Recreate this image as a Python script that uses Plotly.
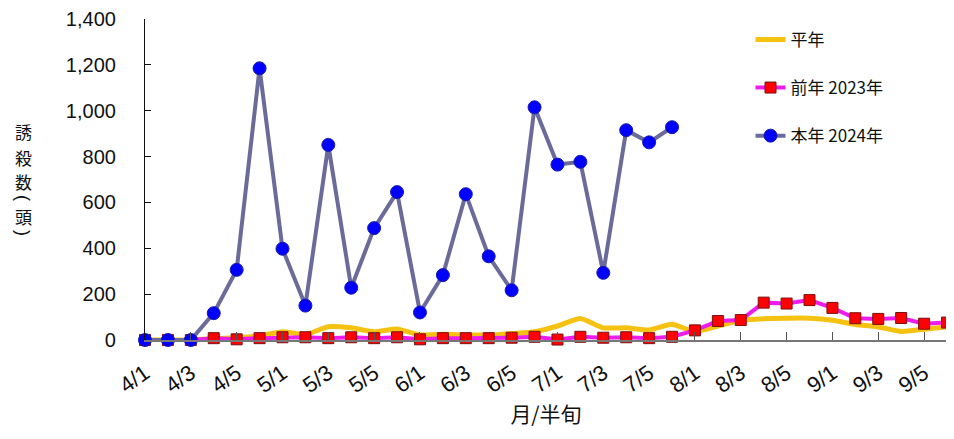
import plotly.graph_objects as go

categories = [f"{m}/{h}" for m in range(4, 10) for h in range(1, 7)]
tick_labels = categories[::2]

normal_year = [0, 0, 1, 5, 10, 18, 36, 24, 58, 53, 36, 48, 22, 25, 22, 22, 28, 36,
               61, 94, 53, 53, 44, 69, 36, 61, 86, 93, 95, 95, 86, 68, 57, 37, 47, 57]
prev_2023 = [0, 0, 0, 8, 3, 8, 12, 12, 8, 12, 8, 12, 3, 8, 8, 8, 10, 14,
             2, 14, 10, 12, 8, 14, 42, 83, 87, 163, 159, 174, 140, 95, 92, 96, 71, 76]
this_2024 = [0, 0, 0, 117, 306, 1185, 398, 150, 851, 228, 488, 645, 120, 283, 636, 365, 217, 1015,
             765, 777, 293, 915, 862, 928]

name_normal = "平年"
name_prev = "前年 2023年"
name_this = "本年 2024年"
y_title_chars = ["誘", "殺", "数", "(", "頭", ")"]

fig = go.Figure()
fig.add_trace(go.Scatter(
    x=categories, y=normal_year, name=name_normal, mode="lines",
    line=dict(color="#F5C211", width=5, shape="spline", smoothing=0.5),
    legendgroup="a", cliponaxis=False))
fig.add_trace(go.Scatter(
    x=categories, y=prev_2023, name=name_prev, mode="lines+markers",
    line=dict(color="#EE1BEE", width=4),
    marker=dict(symbol="square", size=11, color="#FF0000", line=dict(color="#7A1010", width=1)),
    legendgroup="b", cliponaxis=False))
fig.add_trace(go.Scatter(
    x=categories[:len(this_2024)], y=this_2024, name=name_this, mode="lines+markers",
    line=dict(color="#6B6B9B", width=4),
    marker=dict(symbol="circle", size=13, color="#0000FF", line=dict(color="#1A1AB0", width=1)),
    legendgroup="c", cliponaxis=False))

base_font = "Liberation Sans, Arial, Noto Sans CJK JP, sans-serif"
cjk_font = "Noto Sans CJK JP, Liberation Sans, sans-serif"

# page body has an 8px margin; positions below are in window pixels
PAGE = 8
plot_left, plot_top, plot_w, plot_h = 145, 19, 802, 321
title_y_px = [132, 157, 182, 198, 216, 233]
annotations = []
for ch, ypx in zip(y_title_chars, title_y_px):
    is_paren = ch in "()"
    annotations.append(dict(
        text=ch, xref="paper", yref="paper",
        x=(23 - plot_left) / plot_w, y=1 - (ypx - plot_top) / plot_h,
        xanchor="center", yanchor="middle", showarrow=False,
        textangle=90 if is_paren else 0, borderpad=0,
        font=dict(family=base_font if is_paren else cjk_font,
                  size=18 if is_paren else 17, color="#111111")))

fig.update_layout(
    width=954 - PAGE, height=439 - PAGE,
    margin=dict(l=plot_left - PAGE, r=954 - PAGE - (plot_left + plot_w - PAGE),
                t=plot_top - PAGE, b=439 - (plot_top + plot_h), autoexpand=False),
    paper_bgcolor="white", plot_bgcolor="white",
    font=dict(family=base_font, size=19, color="#111111"),
    showlegend=True,
    legend=dict(x=0.755, y=0.991, xanchor="left", yanchor="top",
                font=dict(family=cjk_font, size=17, color="#111111"),
                tracegroupgap=23, bgcolor="rgba(0,0,0,0)", itemwidth=30),
    xaxis=dict(
        type="category", categoryorder="array", categoryarray=categories,
        range=[0, len(categories) - 1], automargin=False,
        tickmode="array", tickvals=tick_labels, ticktext=tick_labels,
        tickangle=-35, ticks="inside", ticklen=8, tickcolor="#555555",
        showline=True, linecolor="#777777", linewidth=1.5,
        showgrid=False, zeroline=False, ticklabelstandoff=10,
        tickfont=dict(size=22),
        title=dict(text="月/半旬", font=dict(family=cjk_font, size=21), standoff=7),
    ),
    yaxis=dict(
        range=[0, 1400], tickvals=[0, 200, 400, 600, 800, 1000, 1200, 1400],
        tickformat=",d", ticks="inside", ticklen=6, tickcolor="#111111",
        showline=True, linecolor="#111111", linewidth=1.2, automargin=False,
        showgrid=False, zeroline=False, ticklabelstandoff=24,
        tickfont=dict(size=20),
    ),
    annotations=annotations,
)

fig.write_html("out.html")
